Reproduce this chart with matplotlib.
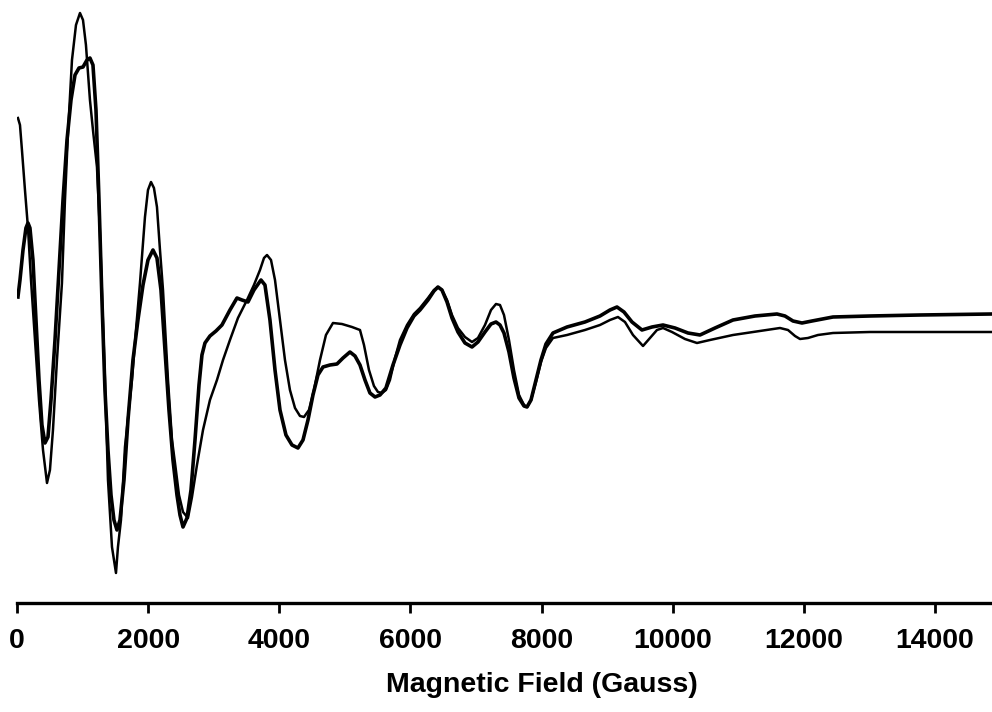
import matplotlib
matplotlib.use('Agg')
from matplotlib import pyplot as plt

plt.rcParams['font.family'] = ['Liberation Sans', 'DejaVu Sans']

# spectrum 1 (thicker trace)
field_a = [15, 46, 92, 137, 168, 198, 244, 290, 336, 381, 427, 473, 519, 580, 641, 702,
           763, 824, 885, 946, 1007, 1068, 1113, 1159, 1205, 1251, 1296, 1342, 1388, 1434,
           1479, 1525, 1571, 1632, 1693, 1769, 1845, 1922, 1998, 2074, 2135, 2196, 2257,
           2318, 2379, 2440, 2486, 2532, 2593, 2654, 2715, 2776, 2821, 2867, 2943, 3035,
           3126, 3248, 3355, 3431, 3523, 3614, 3721, 3782, 3858, 3935, 4011, 4102, 4194,
           4285, 4362, 4438, 4514, 4590, 4667, 4773, 4880, 4972, 5078, 5155, 5231, 5307,
           5383, 5460, 5536, 5627, 5734, 5841, 5948, 6054, 6146, 6268, 6359, 6420, 6481,
           6558, 6634, 6725, 6832, 6939, 7030, 7137, 7229, 7305, 7366, 7427, 7503, 7579,
           7656, 7732, 7778, 7839, 7915, 7991, 8067, 8174, 8388, 8662, 8891, 9043, 9150,
           9257, 9379, 9531, 9684, 9852, 10035, 10233, 10416, 10645, 10919, 11255, 11590,
           11712, 11834, 11971, 12124, 12444, 13008, 13771, 14869]
signal_a = [0.18, 0.35, 0.65, 0.87, 0.92, 0.87, 0.55, -0.05, -0.65, -1.10, -1.28, -1.22,
            -0.85, -0.25, 0.45, 1.15, 1.75, 2.15, 2.40, 2.47, 2.48, 2.55, 2.57, 2.50, 2.05,
            1.15, 0.15, -0.75, -1.35, -1.80, -2.05, -2.15, -2.05, -1.65, -1.05, -0.45,
            -0.05, 0.30, 0.55, 0.65, 0.57, 0.25, -0.35, -0.95, -1.45, -1.80, -2.00, -2.12,
            -2.03, -1.75, -1.25, -0.70, -0.40, -0.28, -0.21, -0.16, -0.10, 0.05, 0.17,
            0.15, 0.13, 0.25, 0.35, 0.30, -0.05, -0.55, -0.95, -1.20, -1.30, -1.33, -1.25,
            -1.05, -0.80, -0.60, -0.52, -0.50, -0.49, -0.43, -0.37, -0.41, -0.50, -0.65,
            -0.78, -0.82, -0.80, -0.73, -0.50, -0.30, -0.13, -0.01, 0.05, 0.15, 0.24, 0.28,
            0.25, 0.13, -0.03, -0.17, -0.28, -0.32, -0.27, -0.17, -0.09, -0.07, -0.10,
            -0.18, -0.37, -0.63, -0.83, -0.91, -0.92, -0.85, -0.65, -0.45, -0.29, -0.18,
            -0.12, -0.07, -0.01, 0.05, 0.08, 0.03, -0.07, -0.15, -0.12, -0.10, -0.13,
            -0.18, -0.20, -0.13, -0.05, -0.01, 0.01, -0.01, -0.06, -0.08, -0.06, -0.02,
            -0.01, 0.00, 0.01]

# spectrum 2 (thinner trace)
field_b = [15, 46, 76, 122, 168, 214, 275, 336, 397, 458, 503, 549, 610, 686, 732, 778,
           839, 900, 961, 1007, 1052, 1113, 1159, 1220, 1266, 1296, 1342, 1388, 1449, 1510,
           1540, 1586, 1647, 1754, 1815, 1876, 1952, 1998, 2044, 2089, 2135, 2181, 2227,
           2303, 2364, 2410, 2471, 2532, 2608, 2669, 2745, 2837, 2943, 3050, 3142, 3248,
           3370, 3508, 3614, 3706, 3767, 3813, 3874, 3935, 4011, 4087, 4163, 4240, 4316,
           4377, 4453, 4529, 4621, 4712, 4819, 4956, 5109, 5231, 5292, 5368, 5444, 5505,
           5566, 5627, 5688, 5765, 5841, 5948, 6054, 6146, 6268, 6359, 6420, 6481, 6558,
           6634, 6725, 6832, 6939, 7030, 7137, 7229, 7305, 7366, 7427, 7503, 7579, 7656,
           7732, 7778, 7839, 7915, 7991, 8067, 8174, 8388, 8662, 8891, 9043, 9165, 9272,
           9394, 9547, 9653, 9760, 9852, 9989, 10187, 10370, 10568, 10919, 11331, 11636,
           11758, 11865, 11941, 12063, 12215, 12444, 13008, 13771, 14869]
signal_b = [1.97, 1.90, 1.65, 1.25, 0.87, 0.35, -0.25, -0.85, -1.35, -1.68, -1.55, -1.15,
            -0.45, 0.32, 1.15, 1.82, 2.55, 2.90, 3.02, 2.95, 2.70, 2.15, 1.85, 1.48, 0.82,
            0.22, -0.65, -1.65, -2.32, -2.58, -2.32, -2.05, -1.32, -0.65, -0.15, 0.32,
            0.98, 1.25, 1.33, 1.27, 1.08, 0.65, 0.25, -0.65, -1.25, -1.48, -1.80, -1.97,
            -2.03, -1.82, -1.50, -1.15, -0.85, -0.65, -0.45, -0.25, -0.03, 0.15, 0.30,
            0.45, 0.57, 0.60, 0.55, 0.35, -0.05, -0.45, -0.75, -0.93, -1.01, -1.02, -0.95,
            -0.75, -0.45, -0.20, -0.08, -0.09, -0.12, -0.15, -0.30, -0.55, -0.71, -0.77,
            -0.78, -0.75, -0.65, -0.43, -0.25, -0.10, 0.01, 0.07, 0.17, 0.25, 0.28, 0.25,
            0.15, 0.00, -0.13, -0.22, -0.27, -0.23, -0.10, 0.05, 0.11, 0.10, 0.00, -0.25,
            -0.55, -0.80, -0.90, -0.92, -0.85, -0.67, -0.47, -0.33, -0.23, -0.20, -0.15,
            -0.10, -0.05, -0.02, -0.07, -0.20, -0.31, -0.23, -0.15, -0.13, -0.17, -0.24,
            -0.28, -0.25, -0.20, -0.16, -0.13, -0.15, -0.21, -0.24, -0.23, -0.20, -0.18,
            -0.17, -0.17, -0.17]

tick_vals = [0, 2000, 4000, 6000, 8000, 10000, 12000, 14000]

fig = plt.figure(figsize=(9.92, 7.12), dpi=100)
ax = fig.add_axes([0.0171, 0.1531, 0.9829, 0.8469])

ax.plot(field_b, signal_b, color='black', lw=1.8, solid_joinstyle='round')
ax.plot(field_a, signal_a, color='black', lw=2.6, solid_joinstyle='round')

ax.set_xlim(0, 14869)
ax.set_ylim(-2.88, 3.15)

for s in ['left', 'top', 'right']:
    ax.spines[s].set_visible(False)
ax.spines['bottom'].set_linewidth(2.4)
ax.set_yticks([])
ax.set_xticks(tick_vals)
ax.set_xticklabels([str(t) for t in tick_vals], fontsize=20.5, fontweight='bold')
ax.tick_params(axis='x', direction='out', length=7, width=2, pad=11)
ax.set_xlabel('Magnetic Field (Gauss)', fontsize=20.5, fontweight='bold')
ax.xaxis.set_label_coords(0.538, -0.114)

fig.savefig('out.png', dpi=100)
